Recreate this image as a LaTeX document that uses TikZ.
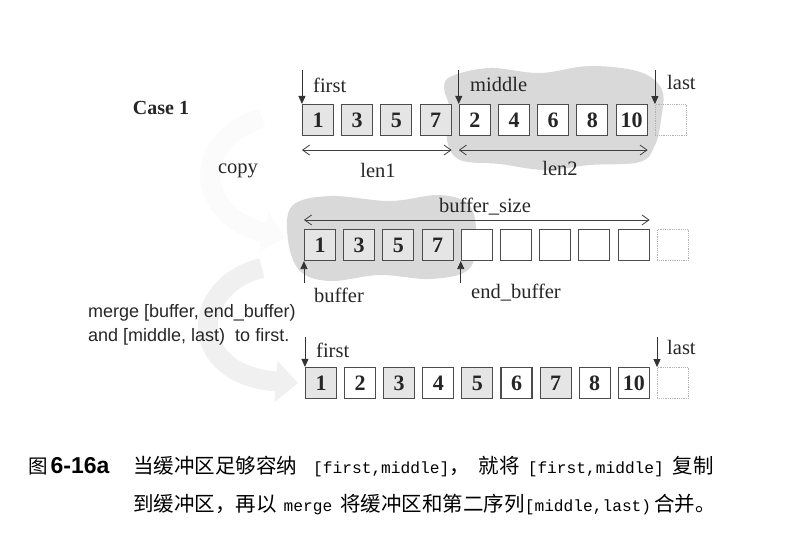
\documentclass[tikz,border=0pt]{standalone}
\usepackage{fontspec}
\setmainfont{Liberation Serif}
\setsansfont{Liberation Sans}
\setmonofont{Liberation Mono}
\newfontfamily\cjk{Noto Sans CJK SC}
\usetikzlibrary{arrows.meta}
\newcommand\codetxt[1]{{\ttfamily\fontsize{16.2}{18}\selectfont #1}}

\begin{document}
\begin{tikzpicture}[x=1pt, y=-1pt,
    cell/.style={draw=black!70, line width=1.1pt, minimum size=31pt, inner sep=0pt, text=black!85, font=\bfseries\fontsize{22}{22}\selectfont},
    oldcell/.style={cell, fill=black!10},
    newcell/.style={cell, fill=white},
    endcell/.style={draw=black!30, densely dotted, line width=0.8pt, minimum size=31pt, inner sep=0pt},
    lbl/.style={inner sep=0pt, text=black!85, font=\fontsize{20.5}{22}\selectfont},
    sanslbl/.style={inner sep=0pt, anchor=west, text=black!85, font=\sffamily\fontsize{18}{20}\selectfont},
    captext/.style={anchor=base west, inner sep=0pt, font=\cjk\fontsize{20.5}{22}\selectfont},
    ptr/.style={line width=0.8pt, black!80, -{Triangle[length=8pt, width=7pt]}},
    lenarrow/.style={line width=0.8pt, black!75, {Straight Barb[length=7pt, width=10pt]}-{Straight Barb[length=7pt, width=10pt]}},
    band/.style={line width=20pt, -{Triangle[length=22pt, width=40pt]}},
    blob/.style={fill=black!15, draw=none}]
    \useasboundingbox (0,0) rectangle (802,549);

    % grey clouds behind the moved parts
    \fill[blob] plot[smooth cycle, tension=0.6] coordinates {(452,76) (490,68) (540,73) (590,66) (640,72) (662,90) (661,120) (655,145) (640,162) (590,165) (545,170) (500,164) (460,160) (447,140) (450,110) (444,88)};
    \fill[blob] plot[smooth cycle, tension=0.6] coordinates {(292,206) (330,196) (390,201) (440,195) (470,206) (476,240) (468,270) (430,279) (380,275) (330,281) (300,271) (288,240)};

    % wide curved arrows (copy, merge)
    \draw[band, black!1.5] (262,118) .. controls (190,140) and (195,215) .. (285,238);
    \draw[band, black!6] (262,268) .. controls (190,285) and (185,375) .. (298,383);

    % row 1
    \node[oldcell] (a1) at (318,120) {1};
    \node[oldcell] (a2) at (357.2,120) {3};
    \node[oldcell] (a3) at (396.4,120) {5};
    \node[oldcell] (a4) at (435.6,120) {7};
    \node[newcell] (a5) at (474.8,120) {2};
    \node[newcell] (a6) at (514,120) {4};
    \node[newcell] (a7) at (553.2,120) {6};
    \node[newcell] (a8) at (592.4,120) {8};
    \node[newcell] (a9) at (631.6,120) {10};
    \node[endcell] (a10) at (670.8,120) {};

    % row 2
    \node[oldcell] (b1) at (320,245) {1};
    \node[oldcell] (b2) at (359.2,245) {3};
    \node[oldcell] (b3) at (398.4,245) {5};
    \node[oldcell] (b4) at (437.6,245) {7};
    \node[newcell] (b5) at (476.8,245) {};
    \node[newcell] (b6) at (516,245) {};
    \node[newcell] (b7) at (555.2,245) {};
    \node[newcell] (b8) at (594.4,245) {};
    \node[newcell] (b9) at (633.6,245) {};
    \node[endcell] (b10) at (672.8,245) {};

    % row 3
    \node[oldcell] (c1) at (321,383) {1};
    \node[newcell] (c2) at (360.1,383) {2};
    \node[oldcell] (c3) at (399.2,383) {3};
    \node[newcell] (c4) at (438.3,383) {4};
    \node[oldcell] (c5) at (477.4,383) {5};
    \node[newcell] (c6) at (516.5,383) {6};
    \node[oldcell] (c7) at (555.6,383) {7};
    \node[newcell] (c8) at (594.7,383) {8};
    \node[newcell] (c9) at (633.8,383) {10};
    \node[endcell] (c10) at (672.9,383) {};

    % iterators
    \coordinate (pfirst) at ([yshift=34pt]a1.north west);
    \coordinate (pmiddle) at ([yshift=34pt]a5.north west);
    \coordinate (plast) at ([yshift=34pt]a10.north west);
    \draw[ptr] (pfirst) -- (a1.north west);
    \draw[ptr] (pmiddle) -- (a5.north west);
    \draw[ptr] (plast) -- (a10.north west);
    \node[lbl, anchor=west] (tfirst) at (313,85) {first};
    \node[lbl, anchor=west] (tmiddle) at (470,84) {middle};
    \node[lbl, anchor=west] (tlast) at (667,82) {last};

    \coordinate (qbuf) at ([yshift=-22pt]b1.south west);
    \coordinate (qend) at ([yshift=-22pt]b5.south west);
    \draw[ptr] (qbuf) -- (b1.south west);
    \draw[ptr] (qend) -- (b5.south west);
    \node[lbl, anchor=west] (tbuf) at (314,295) {buffer};
    \node[lbl, anchor=west] (tend) at (471,293) {end\_buffer};

    \coordinate (rfirst) at ([yshift=30pt]c1.north west);
    \coordinate (rlast) at ([yshift=30pt]c10.north west);
    \draw[ptr] (rfirst) -- (c1.north west);
    \draw[ptr] (rlast) -- (c10.north west);
    \node[lbl, anchor=west] (tfirst3) at (316,350) {first};
    \node[lbl, anchor=west] (tlast3) at (667,347) {last};

    % lengths
    \draw[lenarrow] ([yshift=-14pt]a1.south west) -- ([yshift=-14pt]a4.south east);
    \draw[lenarrow] ([yshift=-14pt]a5.south west) -- ([yshift=-14pt]a9.south east);
    \node[lbl] (tlen1) at (378,170) {len1};
    \node[lbl] (tlen2) at (560,168) {len2};
    \draw[lenarrow] ([yshift=9pt]b1.north west) -- ([yshift=9pt]b9.north east);
    \node[lbl] (tsize) at (485,207) {buffer\_size};

    \node[lbl, font=\bfseries\fontsize{20}{22}\selectfont] (case) at (161,108) {Case 1};
    \node[lbl] (copy) at (238,171) {copy};
    \node[sanslbl] (m1) at (88,313) {merge [buffer, end\_buffer)};
    \node[sanslbl] (m2) at (88,337) {and [middle, last)\ \ to first.};

    % caption
    \node[anchor=base west, inner sep=0pt] (fig) at (28,473) {{\cjk\fontsize{19.5}{20}\selectfont 图}\hspace{3pt}{\sffamily\bfseries\fontsize{23}{24}\selectfont 6-16a}};
    \node[captext] (cap1) at (133,473) {当缓冲区足够容纳\hspace{16pt}\codetxt{[first,middle]}，\hspace{9pt}就将\hspace{8pt}\codetxt{[first,middle]}\hspace{9pt}复制};
    \node[captext] (cap2) at (133,511) {到缓冲区，再以\hspace{7pt}\codetxt{merge}\hspace{8pt}将缓冲区和第二序列\codetxt{[middle,last)}\hspace{3pt}合并。};
\end{tikzpicture}
\end{document}
